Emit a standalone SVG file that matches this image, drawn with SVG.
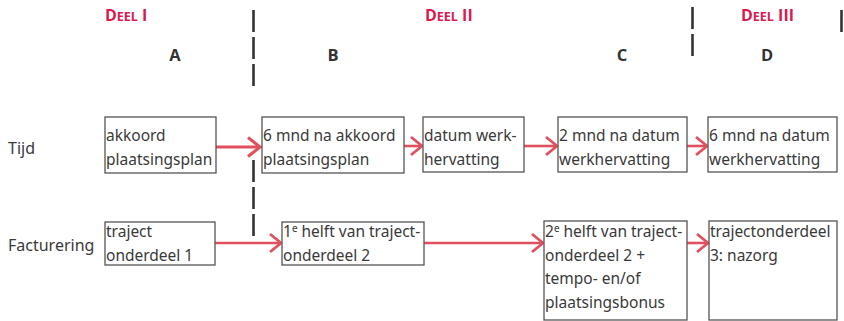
<svg xmlns="http://www.w3.org/2000/svg" width="844" height="321" viewBox="0 0 844 321">
<defs>
<style>
.box{fill:#fff;stroke:#555;stroke-width:1.3}
.t{font-family:"Noto Sans","Open Sans",sans-serif;font-size:15.5px;fill:#3a3a3a}
.lab{font-family:"Noto Sans","Open Sans",sans-serif;font-size:16px;fill:#3a3a3a}
.col{font-family:"Open Sans","Noto Sans",sans-serif;font-size:16.5px;font-weight:bold;fill:#333;text-anchor:middle}
.deel{font-family:"Open Sans","Noto Sans",sans-serif;font-weight:bold;fill:#d71a50;font-size:16px}
.sc{font-size:12.5px}
.dash{stroke:#333;stroke-width:2.6;stroke-dasharray:22 5;fill:none}
.arr{stroke:#e0505e;stroke-width:2.6;fill:none}
.head{stroke:#e0505e;stroke-width:2.8;fill:none;stroke-linejoin:miter}
</style>
</defs>
<g id="headers">
<text class="deel" x="105" y="21">D<tspan class="sc">EEL</tspan> I</text>
<text class="deel" x="425" y="21">D<tspan class="sc">EEL</tspan> II</text>
<text class="deel" x="741" y="21">D<tspan class="sc">EEL</tspan> III</text>
<text class="col" x="175" y="61">A</text>
<text class="col" x="333" y="61">B</text>
<text class="col" x="622" y="61">C</text>
<text class="col" x="767" y="61">D</text>
<text class="lab" x="8" y="154">Tijd</text>
<text class="lab" x="8" y="251">Facturering</text>
</g>
<g id="dividers">
<line class="dash" x1="253.5" y1="10" x2="253.5" y2="86"/>
<line class="dash" x1="253.5" y1="160" x2="253.5" y2="236"/>
<line class="dash" x1="692.5" y1="7" x2="692.5" y2="57"/>
<line class="dash" x1="841.5" y1="10" x2="841.5" y2="32"/>
</g>
<g id="connectors">
<line class="arr" x1="216" y1="147" x2="259" y2="147" style="stroke-width:3.2"/>
<path class="head" d="M248,137.5 L260,147 L248,156.5" style="stroke-width:3.2"/>
<line class="arr" x1="404" y1="146" x2="421" y2="146"/>
<path class="head" d="M411,137 L422,146 L411,155"/>
<line class="arr" x1="524" y1="146" x2="556" y2="146"/>
<path class="head" d="M546,137 L557,146 L546,155"/>
<line class="arr" x1="687" y1="146" x2="706" y2="146"/>
<path class="head" d="M696,137 L707,146 L696,155"/>
<line class="arr" x1="215" y1="243" x2="280" y2="243"/>
<path class="head" d="M270,234 L281,243 L270,252"/>
<line class="arr" x1="424" y1="243" x2="542" y2="243"/>
<path class="head" d="M532,234 L543,243 L532,252"/>
<line class="arr" x1="687" y1="243" x2="707" y2="243"/>
<path class="head" d="M697,234 L708,243 L697,252"/>
</g>
<g id="n-akkoord">
<rect class="box" x="105" y="117" width="111" height="56"/>
<text class="t" x="106" y="141">akkoord</text>
<text class="t" x="106" y="165">plaatsingsplan</text>
</g>
<g id="n-6mnd-akkoord">
<rect class="box" x="262" y="117" width="142" height="56"/>
<text class="t" x="263" y="141">6 mnd na akkoord</text>
<text class="t" x="263" y="165">plaatsingsplan</text>
</g>
<g id="n-datum">
<rect class="box" x="423" y="117" width="101" height="55"/>
<text class="t" x="424" y="141">datum werk-</text>
<text class="t" x="424" y="165">hervatting</text>
</g>
<g id="n-2mnd">
<rect class="box" x="558" y="117" width="129" height="55"/>
<text class="t" x="559" y="141">2 mnd na datum</text>
<text class="t" x="559" y="165">werkhervatting</text>
</g>
<g id="n-6mnd-datum">
<rect class="box" x="708" y="117" width="129" height="55"/>
<text class="t" x="709" y="141">6 mnd na datum</text>
<text class="t" x="709" y="165">werkhervatting</text>
</g>
<g id="n-traject1">
<rect class="box" x="105" y="222" width="110" height="43"/>
<text class="t" x="106" y="237">traject</text>
<text class="t" x="106" y="261">onderdeel 1</text>
</g>
<g id="n-helft1">
<rect class="box" x="282" y="222" width="142" height="43"/>
<text class="t" x="283" y="237">1<tspan font-size="10" dy="-5">e</tspan><tspan dy="5"> helft van traject-</tspan></text>
<text class="t" x="283" y="261">onderdeel 2</text>
</g>
<g id="n-helft2">
<rect class="box" x="544" y="221" width="143" height="99"/>
<text class="t" x="545" y="237">2<tspan font-size="10" dy="-5">e</tspan><tspan dy="5"> helft van traject-</tspan></text>
<text class="t" x="545" y="261">onderdeel 2 +</text>
<text class="t" x="545" y="284">tempo- en/of</text>
<text class="t" x="545" y="308">plaatsingsbonus</text>
</g>
<g id="n-nazorg">
<rect class="box" x="709" y="221" width="128" height="99"/>
<text class="t" x="710" y="237">trajectonderdeel</text>
<text class="t" x="710" y="261">3: nazorg</text>
</g>
</svg>
